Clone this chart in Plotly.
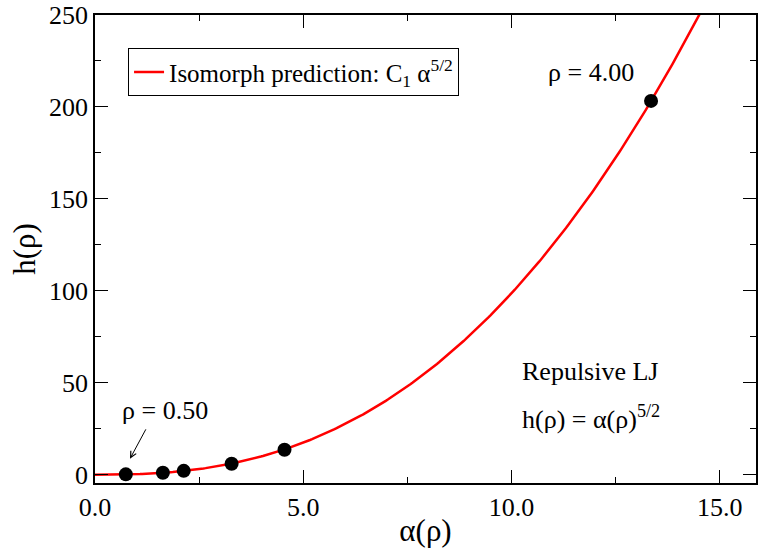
import numpy as np
import plotly.graph_objects as go

# Data
alpha_pts = [0.74, 1.63, 2.13, 3.28, 4.55, 13.35]
h_pts = [0.2, 1.1, 2.1, 6.0, 13.6, 203.3]
C1 = 0.312  # isomorph prediction prefactor
alpha_curve = np.linspace(0.0, 14.7, 300)
h_curve = C1 * alpha_curve ** 2.5

x_ticks = [0, 5, 10, 15]
x_tick_labels = ["0.0", "5.0", "10.0", "15.0"]
y_ticks = [0, 50, 100, 150, 200, 250]

FONT = "Liberation Serif"

fig = go.Figure()
fig.add_trace(go.Scatter(
    x=alpha_curve, y=h_curve, mode="lines",
    line=dict(color="#ff0000", width=2.5),
    name="Isomorph prediction: C<sub>1</sub> α<sup>5/2</sup>",
    showlegend=True,
))
fig.add_trace(go.Scatter(
    x=alpha_pts, y=h_pts, mode="markers",
    marker=dict(color="black", size=14),
    showlegend=False,
))

axis_common = dict(
    showline=True, linecolor="black", linewidth=1.5, mirror="allticks",
    ticks="inside", ticklen=13, tickwidth=1.2, tickcolor="black",
    showgrid=False, zeroline=False,
    tickfont=dict(family=FONT, size=26, color="black"),
)

fig.update_xaxes(
    range=[0, 15.87], tickvals=x_ticks, ticktext=x_tick_labels,
    minor=dict(ticks="inside", ticklen=6, dtick=2.5, tick0=0, tickcolor="black", tickwidth=1.2),
    title=dict(text="α(ρ)", font=dict(family=FONT, size=31, color="black"), standoff=0),
    **axis_common,
)
fig.update_yaxes(
    range=[-4.5, 250], tickvals=y_ticks,
    minor=dict(ticks="inside", ticklen=6, dtick=25, tick0=0, tickcolor="black", tickwidth=1.2),
    title=dict(text="h(ρ)", font=dict(family=FONT, size=31, color="black"), standoff=4),
    **axis_common,
)

ann_font = dict(family=FONT, size=26, color="black")
fig.add_annotation(x=11.9, y=218.5, text="ρ = 4.00", showarrow=False, font=ann_font)
fig.add_annotation(x=1.67, y=34.8, text="ρ = 0.50", showarrow=False, font=ann_font)
fig.add_annotation(x=0.84, y=8.7, ax=1.24, ay=25.5, axref="x", ayref="y",
                   text="", showarrow=True, arrowhead=5, arrowsize=1.2,
                   arrowwidth=1, arrowcolor="black")
fig.add_annotation(x=10.21, y=56, text="Repulsive LJ", showarrow=False,
                   xanchor="left", font=ann_font)
fig.add_annotation(x=10.21, y=31, text="h(ρ) = α(ρ)<sup>5/2</sup>", showarrow=False,
                   xanchor="left", font=ann_font)

fig.update_layout(
    width=759, height=548,
    margin=dict(l=95, r=1, t=15, b=65),
    paper_bgcolor="white", plot_bgcolor="white",
    font=dict(family=FONT, color="black"),
    legend=dict(
        x=0.05, y=0.929, xanchor="left", yanchor="top",
        bordercolor="black", borderwidth=1, bgcolor="white",
        font=dict(family=FONT, size=25, color="black"),
        itemwidth=30,
    ),
)

fig.write_html("out.html")
